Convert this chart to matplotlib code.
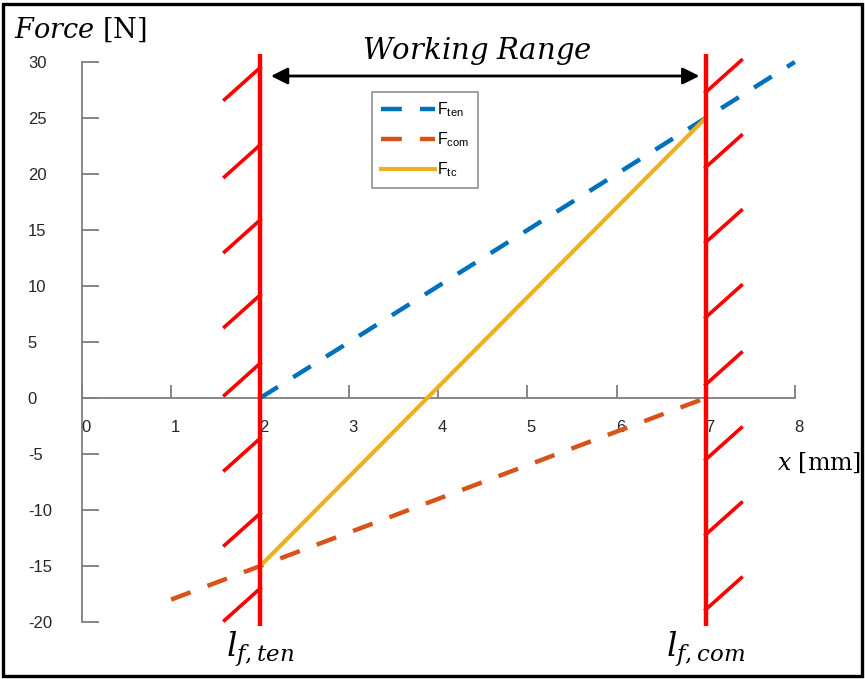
"""
plot.py - spring force vs. displacement between the two hard stops.

Draws F_ten, F_com and their sum F_tc, with the tension / compression
stops drawn as hatched walls and the working range marked above.
"""
import matplotlib
matplotlib.use("Agg")
import matplotlib.pyplot as plt
from matplotlib.patches import Rectangle
from matplotlib.transforms import ScaledTranslation

plt.rcParams["font.family"] = ["Liberation Sans", "DejaVu Sans"]
plt.rcParams["mathtext.fontset"] = "custom"
plt.rcParams["mathtext.rm"] = "Liberation Sans"
plt.rcParams["mathtext.it"] = "Liberation Sans:italic"
plt.rcParams["lines.scale_dashes"] = False
plt.rcParams["axes.unicode_minus"] = False

# ── data ────────────────────────────────────────────────────────────────
X_TEN = [2, 8]
F_TEN = [0, 30]
X_COM = [1, 7]
F_COM = [-18, 0]
X_TC = [2, 7]
F_TC = [-15, 25]

X_TICKS = [0, 1, 2, 3, 4, 5, 6, 7, 8]
Y_TICKS = [-20, -15, -10, -5, 0, 5, 10, 15, 20, 25, 30]

# hard stops (l_f,ten and l_f,com) and their hatch anchors
WALL_X = [2, 7]
WALL_Y = [-20.4, 30.7]
LEFT_HATCH_Y = [29.5, 22.6, 15.9, 9.2, 3.1, -3.6, -10.3, -17.0]
RIGHT_HATCH_Y = [27.3, 20.6, 13.9, 7.2, 1.2, -5.5, -12.2, -18.9]
HATCH_DX, HATCH_DY = 0.40, 2.85

RANGE_Y = 28.75
RANGE_X = [2.12, 6.93]

BLUE = "#0072BD"
ORANGE = "#D95319"
YELLOW = "#EDB120"
AXIS_GREY = "#7f7f7f"
LABEL_MATH = "dejavuserif"

# pixel scale of the canvas: x=0 at 82 px, 89.1 px/unit; y=0 at 398 px, 11.2 px/unit
W, H = 865, 679
X0_PX, XS = 82, 89.1
Y0_PX, YS = 398, 11.2

fig = plt.figure(figsize=(W / 100, H / 100), dpi=100)
ax = fig.add_axes([0, 0, 1, 1])
ax.set_xlim(-X0_PX / XS, (W - X0_PX) / XS)
ax.set_ylim((Y0_PX - H) / YS, Y0_PX / YS)
ax.patch.set_visible(False)

# axes drawn through the origin
for side in ("top", "right"):
    ax.spines[side].set_visible(False)
ax.spines["left"].set_position(("data", 0))
ax.spines["left"].set_bounds(Y_TICKS[0], Y_TICKS[-1])
ax.spines["bottom"].set_position(("data", 0))
ax.spines["bottom"].set_bounds(X_TICKS[0], X_TICKS[-1])
for side in ("left", "bottom"):
    ax.spines[side].set_color(AXIS_GREY)
    ax.spines[side].set_linewidth(1.3)
    ax.spines[side].set_zorder(1)

ax.set_xticks(X_TICKS)
ax.set_yticks(Y_TICKS)
ax.tick_params(axis="x", direction="in", length=9.5, width=1.3,
               color=AXIS_GREY, pad=16, labelsize=12, labelcolor="#262626")
ax.tick_params(axis="y", direction="in", length=12, width=1.3,
               color=AXIS_GREY, pad=39, labelsize=12, labelcolor="#262626")
plt.setp(ax.get_yticklabels(), ha="left")
# x labels sit a little right of their ticks
nudge = ScaledTranslation(4 / 100, 0, fig.dpi_scale_trans)
for lbl in ax.get_xticklabels():
    lbl.set_transform(lbl.get_transform() + nudge)

# force curves
ax.plot(X_TEN, F_TEN, color=BLUE, lw=3.2, dashes=(15, 13), zorder=3,
        label=r"$\mathrm{F}_{\mathrm{ten}}$")
ax.plot(X_COM, F_COM, color=ORANGE, lw=3.2, dashes=(15, 13), zorder=3,
        label=r"$\mathrm{F}_{\mathrm{com}}$")
ax.plot(X_TC, F_TC, color=YELLOW, lw=3.0, zorder=3,
        label=r"$\mathrm{F}_{\mathrm{tc}}$")

# hatched walls at the two stops
for wx in WALL_X:
    ax.plot([wx, wx], WALL_Y, color="red", lw=3.2, zorder=5,
            solid_capstyle="butt")
for hy in LEFT_HATCH_Y:
    ax.plot([WALL_X[0], WALL_X[0] - HATCH_DX], [hy, hy - HATCH_DY],
            color="red", lw=2.6, zorder=5)
for hy in RIGHT_HATCH_Y:
    ax.plot([WALL_X[1], WALL_X[1] + HATCH_DX], [hy, hy + HATCH_DY],
            color="red", lw=2.6, zorder=5)

# working range arrow
ax.annotate("", xy=(RANGE_X[1], RANGE_Y), xytext=(RANGE_X[0], RANGE_Y),
            arrowprops=dict(arrowstyle="<|-|>,head_length=0.5,head_width=0.25",
                            color="black", lw=2, mutation_scale=20,
                            shrinkA=0, shrinkB=0))
ax.text(4.43, 31.0, r"$Working\ Range$", math_fontfamily=LABEL_MATH,
        fontsize=21, ha="center", va="center")

# axis titles and stop labels
ax.text(-0.76, 32.9, r"$Force\ [\mathrm{N}]$", math_fontfamily=LABEL_MATH,
        fontsize=19.5, ha="left", va="center")
ax.text(8.74, -5.8, r"$x\ [\mathrm{mm}]$", math_fontfamily=LABEL_MATH,
        fontsize=17, ha="right", va="center")
ax.text(WALL_X[0], -20.7, r"$l_{f,ten}$", math_fontfamily=LABEL_MATH,
        fontsize=23.5, ha="center", va="top")
ax.text(WALL_X[1], -20.7, r"$l_{f,com}$", math_fontfamily=LABEL_MATH,
        fontsize=23.5, ha="center", va="top")

leg = ax.legend(loc="upper left", bbox_to_anchor=(372 / W, 1 - 92 / H),
                bbox_transform=fig.transFigure, borderaxespad=0,
                fontsize=11.5, fancybox=False, edgecolor=AXIS_GREY,
                handlelength=3.4, handletextpad=0.12, labelspacing=0.7,
                borderpad=0.55)
leg.get_frame().set_linewidth(1.3)
leg.set_zorder(6)

# border around the whole figure
fig.patches.append(Rectangle((0.004, 0.004), 0.992, 0.99, fill=False,
                             lw=2.4, edgecolor="black",
                             transform=fig.transFigure))

fig.savefig("out.png", dpi=100)
